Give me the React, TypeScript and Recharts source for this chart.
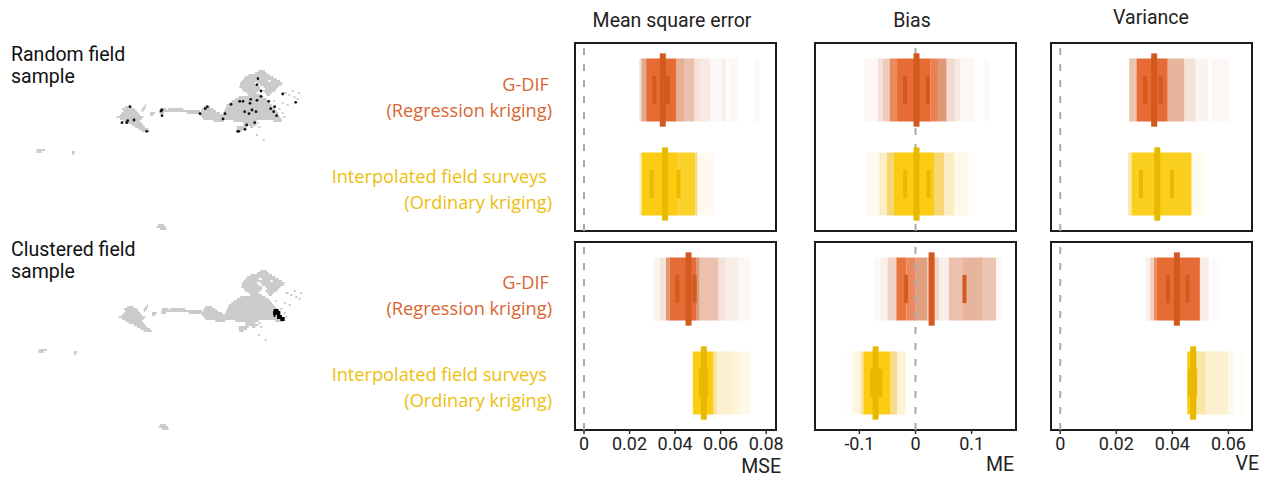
import React from "react";
import { ScatterChart, Scatter, XAxis, YAxis, ReferenceArea, ReferenceLine } from "recharts";

type Band = [number, number, number]; // from, to, opacity
type Span = [number, number, number]; // row, from, to

const ORANGE = "#E66B35";
const ORANGE_FADE = "#CF6C3E";
const ORANGE_DARK = "#D3591F";
const YELLOW = "#FBCC12";
const YELLOW_FADE = "#F2C53A";
const YELLOW_DARK = "#E8B900";

// y position of the two rows
const ROW_GDIF = 2;
const ROW_FIELD = 1;

const mseRandomGdif: Band[] = [[.0243,.0253,.25],[.0253,.0273,.6],[.0273,.0404,1],[.0404,.044,.55],[.044,.0484,.42],[.0484,.051,.2],[.051,.0554,.15],[.0554,.0605,.05],[.0605,.0624,.1],[.0636,.0675,.05],[.0747,.0771,.04]];
const mseRandomField: Band[] = [[.0243,.0253,.3],[.0253,.0415,1],[.0415,.0488,.9],[.0488,.0498,.6],[.0498,.0566,.08]];
const mseClusterGdif: Band[] = [[.0305,.0334,.08],[.0334,.036,.2],[.036,.0375,.7],[.0375,.0492,1],[.0492,.0507,.7],[.0507,.059,.42],[.059,.062,.2],[.062,.0678,.12],[.0678,.073,.06]];
const mseClusterField: Band[] = [[.0478,.0568,1],[.0568,.0583,.5],[.0583,.0656,.25],[.0656,.0681,.2],[.0681,.073,.12]];

const meRandomGdif: Band[] = [[-.0908,-.0669,.05],[-.0669,-.0579,.2],[-.0579,-.046,.35],[-.046,-.0329,.8],[-.0329,.0269,1],[.0269,.04,.85],[.04,.055,.7],[.055,.0699,.25],[.0699,.0795,.15],[.0795,.1045,.06],[.1213,.1314,.03]];
const meRandomField: Band[] = [[-.0866,-.0639,.08],[-.0639,-.0508,.3],[-.0508,-.0388,.7],[-.0388,.0329,1],[.0329,.0508,.7],[.0508,.0687,.3],[.0687,.0914,.12],[.0914,.1057,.05]];
const meClusterGdif: Band[] = [[-.0735,-.0627,.05],[-.0627,-.0496,.1],[-.0496,-.034,.3],[-.034,-.0161,.95],[-.0161,0,.8],[0,.0209,.65],[.0209,.0418,.3],[.0418,.0597,.12],[.0597,.0836,.42],[.0836,.1195,.5],[.1195,.1434,.4],[.1434,.1535,.06]];
const meClusterField: Band[] = [[-.1302,-.1213,.03],[-.1123,-.0974,.15],[-.0974,-.0926,.5],[-.0926,-.0448,1],[-.0448,-.0329,.6],[-.0329,-.0173,.2]];

const veRandomGdif: Band[] = [[.0246,.0272,.4],[.0272,.0383,1],[.0383,.0442,.5],[.0442,.0482,.2],[.0482,.0528,.08],[.054,.0601,.06]];
const veRandomField: Band[] = [[.0242,.0254,.4],[.0254,.0468,.95],[.0468,.0512,.08]];
const veClusterGdif: Band[] = [[.0304,.032,.1],[.032,.0335,.3],[.0335,.0344,.85],[.0344,.0498,1],[.0498,.053,.12],[.054,.056,.03]];
const veClusterField: Band[] = [[.0453,.0486,1],[.0486,.0518,.45],[.0518,.0597,.25],[.0597,.0619,.1],[.064,.0662,.05]];

const mseTicks = [0, 0.02, 0.04, 0.06, 0.08];
const meTicks = [-0.1, 0, 0.1];
const veTicks = [0, 0.02, 0.04, 0.06];

const mseDomain = [-0.00396, 0.0843];
const meDomain = [-0.179, 0.179];
const veDomain = [-0.0033, 0.0684];

// [median, inner low, inner high] per row
const panels = [
  { left: 575, top: 43, domain: mseDomain, ticks: [] as number[], gdif: mseRandomGdif, field: mseRandomField, gdifMarks: [.0346,.0309,.0368], fieldMarks: [.0356,.0297,.0415] },
  { left: 815, top: 43, domain: meDomain, ticks: [] as number[], gdif: meRandomGdif, field: meRandomField, gdifMarks: [.0018,-.0185,.022], fieldMarks: [.0018,-.0185,.0233] },
  { left: 1051, top: 43, domain: veDomain, ticks: [] as number[], gdif: veRandomGdif, field: veRandomField, gdifMarks: [.0335,.0303,.0359], fieldMarks: [.0346,.0288,.0399] },
  { left: 575, top: 242, domain: mseDomain, ticks: mseTicks, gdif: mseClusterGdif, field: mseClusterField, gdifMarks: [.0459,.041,.0486], fieldMarks: [.0526,.0513,.0536] },
  { left: 815, top: 242, domain: meDomain, ticks: meTicks, gdif: meClusterGdif, field: meClusterField, gdifMarks: [.0287,-.0167,.0872], fieldMarks: [-.0711,-.0777,-.0627] },
  { left: 1051, top: 242, domain: veDomain, ticks: veTicks, gdif: veClusterGdif, field: veClusterField, gdifMarks: [.0416,.0384,.0454], fieldMarks: [.0474,.0462,.0481] },
];

// map silhouette, runs of grey per row
const mapSpans: Span[] = [
  [33,475,495],[39,465,500],[45,445,510],[51,435,520],[57,430,470],[57,480,530],[63,425,505],[63,512,540],
  [69,420,465],[69,475,548],[75,420,470],[75,480,545],[81,418,480],[81,490,535],[87,425,480],[87,495,530],
  [93,430,475],[93,490,525],[93,575,581],[99,440,470],[99,495,515],[99,550,560],[99,595,601],[105,445,480],[105,500,510],[105,565,571],
  [111,415,490],[111,580,586],[117,405,500],[117,590,596],[123,395,505],[123,520,525],[129,388,510],[129,545,551],[135,135,138],[135,380,515],[135,560,566],
  [141,75,95],[141,130,138],[141,310,330],[141,378,520],[147,65,105],[147,125,135],[147,180,200],[147,205,250],[147,305,340],[147,375,525],[147,535,541],
  [153,70,110],[153,125,130],[153,178,300],[153,303,348],[153,372,530],[159,65,115],[159,150,165],[159,178,192],[159,260,360],[159,370,535],[159,545,551],
  [165,60,120],[165,150,160],[165,300,535],[171,50,130],[171,305,540],[171,550,556],[177,60,125],[177,310,545],[183,70,120],[183,340,370],[183,400,470],[183,520,545],
  [189,80,125],[189,430,460],[189,470,476],[195,95,130],[195,430,470],[201,105,135],[201,410,440],[201,450,460],[201,475,481],[207,115,145],[207,410,435],[213,125,150],[213,412,425],
  [225,468,474],[240,488,494],[270,-190,-165],[276,-190,-175],[276,-84,-75],[282,-84,-78],[495,174,192],[501,170,198],[507,180,200],
];

const clusterBlob: Span[] = [
  [150,515,530],[156,513,535],[162,513,535],[168,515,520],[168,525,540],[174,525,548],[180,535,548],
];

const samplePointsX = [90,66,80,83,102,140,186,183,186,300,316,322,369,375,393,419,429,452,471,450,434,456,447,468,474,471,483,483,506,512,524,521,530,548,587,464,440,435,413,416];
const samplePointsY = [140,188,188,182,180,214,150,153,167,161,146,140,177,161,133,124,124,118,121,130,155,150,161,155,56,74,93,109,124,146,140,155,167,102,127,188,195,208,214,214];
const samplePoints = samplePointsX.map((x, i) => ({ x, y: samplePointsY[i] }));

function bandArea(b: Band, row: number, solid: string, fade: string, key: string) {
  return (
    <ReferenceArea key={key} x1={b[0]} x2={b[1]} y1={row - 0.335} y2={row + 0.335}
      fill={b[2] < 0.8 ? fade : solid} fillOpacity={b[2]} stroke="none" style={{ filter: "blur(0.7px)" }} />
  );
}

function marks(m: number[], row: number, color: string, key: string) {
  return [
    <ReferenceLine key={key + "a"} stroke={color} strokeWidth={4} segment={[{ x: m[1], y: row - 0.15 }, { x: m[1], y: row + 0.15 }]} />,
    <ReferenceLine key={key + "b"} stroke={color} strokeWidth={4} segment={[{ x: m[2], y: row - 0.15 }, { x: m[2], y: row + 0.15 }]} />,
    <ReferenceLine key={key + "c"} stroke={color} strokeWidth={6} segment={[{ x: m[0], y: row - 0.39 }, { x: m[0], y: row + 0.39 }]} />,
  ];
}

function Panel({ p }: { p: (typeof panels)[number] }) {
  const hasAxis = p.ticks.length > 0;
  return (
    <div style={{ position: "absolute", left: p.left - 30, top: p.top - 10 }}>
      <ScatterChart width={30 + 201 + 12} height={10 + 188 + 40} margin={{ top: 10, right: 12, left: 0, bottom: hasAxis ? 0 : 40 }}>
        <XAxis type="number" dataKey="x" domain={p.domain} ticks={p.ticks} allowDataOverflow hide={!hasAxis} height={40}
          axisLine={false} tickSize={4} tickMargin={3} interval={0}
          tick={{ fontFamily: "Roboto", fontSize: 18, fill: "#222" }} tickLine={{ stroke: "#333", strokeWidth: 1.5 }}
          tickFormatter={(v: number) => String(v)} />
        <YAxis type="number" dataKey="y" domain={[0.5, 2.5]} ticks={[ROW_FIELD, ROW_GDIF]} allowDataOverflow width={30} tick={false}
          axisLine={false} tickSize={5} tickLine={{ stroke: "#333", strokeWidth: 2 }} />
        {p.gdif.map((b, i) => bandArea(b, ROW_GDIF, ORANGE, ORANGE_FADE, "g" + i))}
        {p.field.map((b, i) => bandArea(b, ROW_FIELD, YELLOW, YELLOW_FADE, "f" + i))}
        <ReferenceLine x={0} stroke="#aaaaaa" strokeWidth={2} strokeDasharray="7 9" />
        {marks(p.gdifMarks, ROW_GDIF, ORANGE_DARK, "gm")}
        {marks(p.fieldMarks, ROW_FIELD, YELLOW_DARK, "fm")}
        <ReferenceArea x1={p.domain[0]} x2={p.domain[1]} y1={0.5} y2={2.5} fill="none" stroke="#1c1c1c" strokeWidth={2} ifOverflow="visible" />
      </ScatterChart>
    </div>
  );
}

function SampleMap({ left, top, clustered }: { left: number; top: number; clustered: boolean }) {
  return (
    <div style={{ position: "absolute", left, top }}>
      <ScatterChart width={300} height={180} margin={{ top: 0, right: 0, left: 0, bottom: 0 }}>
        <XAxis type="number" dataKey="x" domain={[-270, 630]} hide allowDataOverflow />
        <YAxis type="number" dataKey="y" domain={[0, 540]} reversed hide allowDataOverflow />
        {mapSpans.map((s, i) => (
          <ReferenceArea key={i} x1={s[1]} x2={s[2]} y1={s[0] - 3} y2={s[0] + 3} fill="#CDCACA" fillOpacity={1} stroke="none" />
        ))}
        {clustered && clusterBlob.map((s, i) => (
          <ReferenceArea key={"c" + i} x1={s[1]} x2={s[2]} y1={s[0] - 3} y2={s[0] + 3} fill="#000" fillOpacity={1} stroke="none" />
        ))}
        {!clustered && <Scatter data={samplePoints} fill="#111" isAnimationActive={false} shape={(q: any) => <circle cx={q.cx} cy={q.cy} r={1.4} fill="#111" />} />}
      </ScatterChart>
    </div>
  );
}

function Labels({ dy }: { dy: number }) {
  return (
    <g style={{ fontFamily: "'Open Sans'", fontSize: 18.2 }} textAnchor="end">
      <text x={549} y={91 + dy} fill="#D96532">G-DIF</text>
      <text x={552} y={117 + dy} fill="#D96532">(Regression kriging)</text>
      <text x={547} y={183 + dy} fill="#EDBE0C">Interpolated field surveys</text>
      <text x={552} y={209 + dy} fill="#EDBE0C">(Ordinary kriging)</text>
    </g>
  );
}

export default function App() {
  return (
    <div style={{ position: "absolute", left: 0, top: 0, width: 1269, height: 479, background: "#fff", overflow: "hidden" }}>
      <SampleMap left={10} top={60} clustered={false} />
      <SampleMap left={12} top={260} clustered />
      {panels.map((p, i) => <Panel key={i} p={p} />)}
      <svg width={1269} height={479} style={{ position: "absolute", left: 0, top: 0, pointerEvents: "none" }}>
        <g style={{ fontFamily: "Roboto", fontSize: 19.5 }} fill="#111">
          <text x={11} y={61}>Random field</text>
          <text x={11} y={83}>sample</text>
          <text x={11} y={256}>Clustered field</text>
          <text x={11} y={278}>sample</text>
        </g>
        <g style={{ fontFamily: "Roboto", fontSize: 19.5 }} fill="#222" textAnchor="middle">
          <text x={672} y={27}>Mean square error</text>
          <text x={912} y={27}>Bias</text>
          <text x={1151} y={24}>Variance</text>
        </g>
        <g style={{ fontFamily: "Roboto", fontSize: 19.5 }} fill="#222" textAnchor="end">
          <text x={781} y={473}>MSE</text>
          <text x={1014} y={471}>ME</text>
          <text x={1259} y={470}>VE</text>
        </g>
        <Labels dy={0} />
        <Labels dy={198} />
      </svg>
    </div>
  );
}
